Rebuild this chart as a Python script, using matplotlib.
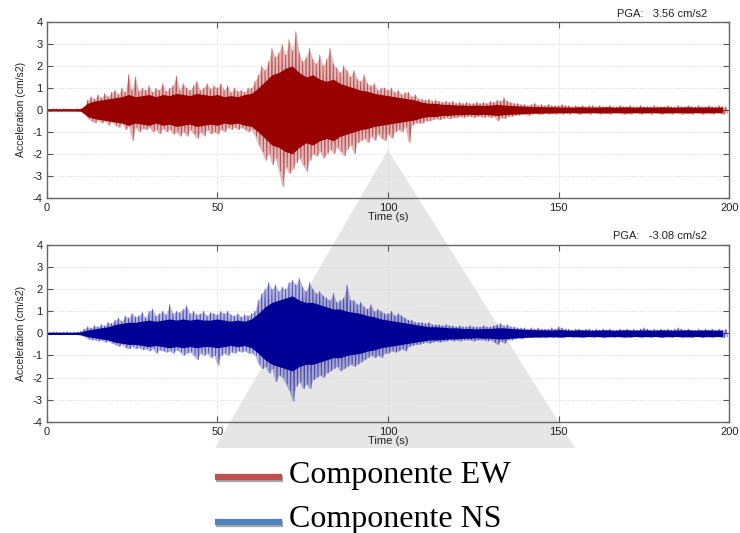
import numpy as np
import matplotlib
matplotlib.use("Agg")
import matplotlib.pyplot as plt
from matplotlib.lines import Line2D
from matplotlib.patches import Polygon
import matplotlib.patheffects as pe

# ---- data: per-second peak (max / min) acceleration read from the records ----
time_s = list(range(200))

ew_max = [0.05,0.04,0.06,0.05,0.04,0.06,0.05,0.05,0.04,0.06,0.05,0.08,
          0.45,0.6,0.5,0.7,0.55,0.75,0.6,0.8,
          0.9,0.7,1.0,0.8,1.6,0.9,1.5,0.85,1.0,0.9,
          1.1,0.8,1.0,0.9,1.2,0.85,1.0,1.1,1.55,0.9,
          1.2,1.0,0.9,1.1,1.3,0.9,1.0,1.2,0.95,1.1,
          1.0,1.2,0.9,1.1,0.8,1.0,0.85,0.9,0.8,1.0,
          1.0,1.3,1.6,2.0,1.8,2.2,2.8,2.4,2.6,3.0,
          2.5,3.2,2.7,3.56,2.6,2.2,2.4,2.8,2.3,2.1,
          2.5,2.0,2.3,2.8,2.1,1.9,1.7,2.0,1.8,1.5,
          1.8,1.4,1.3,1.6,1.2,1.1,1.2,0.9,1.0,1.0,
          0.9,1.0,0.8,0.9,0.7,0.8,0.8,0.6,0.7,0.5,
          0.5,0.45,0.5,0.4,0.45,0.4,0.35,0.4,0.35,0.4,
          0.3,0.35,0.3,0.35,0.3,0.3,0.35,0.3,0.35,0.3,
          0.4,0.35,0.45,0.4,0.55,0.4,0.35,0.3,0.3,0.25,
          0.25,0.2,0.25,0.3,0.2,0.25,0.2,0.25,0.2,0.2,
          0.2,0.25,0.2,0.2,0.15,0.2,0.15,0.2,0.15,0.2,
          0.2,0.15,0.2,0.15,0.15,0.2,0.15,0.15,0.2,0.15,
          0.15,0.2,0.15,0.15,0.2,0.15,0.15,0.15,0.2,0.15,
          0.15,0.15,0.2,0.15,0.15,0.2,0.15,0.15,0.2,0.15,
          0.15,0.2,0.15,0.15,0.2,0.15,0.15,0.2,0.15,0.15]

ew_min = [-0.05,-0.06,-0.04,-0.05,-0.06,-0.04,-0.05,-0.06,-0.05,-0.04,-0.06,-0.08,
          -0.4,-0.5,-0.6,-0.45,-0.6,-0.5,-0.7,-0.55,
          -0.7,-0.8,-0.6,-0.9,-0.75,-1.4,-0.8,-1.0,-0.85,-0.9,
          -0.8,-1.0,-0.9,-1.1,-0.85,-1.0,-0.9,-1.1,-1.0,-1.2,
          -1.0,-1.2,-0.9,-1.1,-1.3,-1.0,-1.2,-0.9,-1.1,-1.0,
          -1.1,-0.9,-1.0,-0.8,-0.9,-0.8,-0.9,-0.8,-0.9,-1.0,
          -0.9,-1.2,-1.6,-1.9,-2.3,-2.0,-2.5,-2.2,-2.8,-3.5,
          -2.6,-2.9,-2.7,-2.4,-2.2,-2.5,-2.8,-2.3,-2.0,-2.1,
          -1.9,-2.2,-2.0,-1.8,-2.0,-1.7,-1.9,-2.1,-1.8,-1.6,
          -2.0,-1.5,-1.4,-1.3,-1.5,-1.2,-1.4,-1.1,-1.3,-1.4,
          -1.1,-1.3,-1.0,-0.9,-1.0,-0.8,-1.5,-0.7,-0.6,-0.6,
          -0.6,-0.5,-0.5,-0.45,-0.4,-0.45,-0.4,-0.35,-0.4,-0.35,
          -0.35,-0.3,-0.35,-0.3,-0.3,-0.35,-0.3,-0.3,-0.35,-0.3,
          -0.35,-0.3,-0.5,-0.35,-0.4,-0.3,-0.3,-0.25,-0.25,-0.2,
          -0.2,-0.25,-0.2,-0.15,-0.2,-0.2,-0.15,-0.2,-0.15,-0.2,
          -0.15,-0.2,-0.15,-0.2,-0.15,-0.15,-0.2,-0.15,-0.15,-0.2,
          -0.15,-0.15,-0.2,-0.15,-0.15,-0.2,-0.15,-0.15,-0.15,-0.2,
          -0.15,-0.2,-0.15,-0.15,-0.2,-0.15,-0.15,-0.2,-0.15,-0.15,
          -0.2,-0.15,-0.15,-0.2,-0.15,-0.15,-0.2,-0.15,-0.15,-0.2,
          -0.15,-0.15,-0.2,-0.15,-0.15,-0.2,-0.15,-0.15,-0.2,-0.15]

ns_max = [0.05,0.04,0.06,0.05,0.04,0.05,0.06,0.04,0.05,0.06,
          0.1,0.2,0.3,0.25,0.35,0.3,0.4,0.35,0.5,0.45,
          0.6,0.7,0.55,0.8,0.7,0.9,0.75,0.8,0.95,0.7,
          1.0,1.1,0.8,0.9,1.0,0.85,1.3,0.9,1.0,0.95,
          1.1,1.25,0.9,1.0,0.85,0.9,1.0,0.8,0.95,0.9,
          0.85,1.0,0.9,1.0,0.85,0.8,0.9,0.75,0.85,0.8,
          0.9,1.0,1.5,1.8,2.0,2.3,2.0,2.2,1.9,2.1,
          2.0,2.3,2.4,2.2,2.5,2.1,1.9,2.3,2.0,1.8,
          1.9,1.7,1.6,1.5,1.8,1.4,1.5,1.6,2.2,1.5,
          1.5,1.3,1.4,1.2,1.1,1.3,1.0,1.1,1.0,0.9,
          0.9,1.0,0.8,0.9,0.8,0.7,0.6,0.6,0.5,0.5,
          0.5,0.45,0.5,0.4,0.4,0.4,0.35,0.4,0.35,0.35,
          0.3,0.35,0.3,0.3,0.35,0.3,0.3,0.3,0.35,0.3,
          0.3,0.35,0.4,0.45,0.35,0.4,0.3,0.3,0.25,0.25,
          0.25,0.2,0.25,0.2,0.25,0.2,0.2,0.2,0.25,0.2,
          0.3,0.25,0.2,0.2,0.15,0.2,0.2,0.15,0.2,0.2,
          0.15,0.2,0.15,0.2,0.15,0.2,0.15,0.15,0.2,0.15,
          0.2,0.15,0.2,0.15,0.2,0.25,0.2,0.15,0.2,0.15,
          0.2,0.15,0.2,0.15,0.2,0.25,0.2,0.15,0.2,0.15,
          0.15,0.2,0.15,0.2,0.15,0.2,0.15,0.2,0.15,0.2]

ns_min = [-0.05,-0.06,-0.04,-0.05,-0.06,-0.05,-0.04,-0.06,-0.05,-0.04,
          -0.1,-0.15,-0.25,-0.3,-0.3,-0.35,-0.3,-0.4,-0.35,-0.45,
          -0.5,-0.6,-0.5,-0.65,-0.7,-0.6,-0.7,-0.65,-0.75,-0.7,
          -0.8,-0.7,-0.9,-0.75,-0.8,-0.85,-0.8,-0.9,-0.75,-0.85,
          -1.0,-0.9,-0.85,-1.0,-1.2,-0.9,-1.0,-0.9,-1.1,-1.0,
          -1.45,-1.0,-0.9,-1.0,-0.85,-0.9,-0.8,-0.85,-0.8,-0.9,
          -0.9,-1.0,-1.4,-1.6,-1.5,-1.8,-1.6,-2.2,-1.9,-2.0,
          -2.3,-2.6,-3.08,-2.4,-2.2,-2.5,-2.3,-2.5,-2.1,-2.0,
          -1.9,-2.0,-1.8,-1.7,-1.6,-1.5,-1.7,-1.6,-1.5,-1.4,
          -1.5,-1.4,-1.3,-1.2,-1.1,-1.0,-1.1,-1.0,-1.1,-0.9,
          -0.9,-0.8,-0.85,-0.8,-0.7,-0.8,-0.6,-0.55,-0.5,-0.5,
          -0.45,-0.4,-0.45,-0.4,-0.35,-0.4,-0.35,-0.35,-0.3,-0.35,
          -0.3,-0.35,-0.3,-0.3,-0.3,-0.35,-0.3,-0.3,-0.3,-0.35,
          -0.3,-0.4,-0.5,-0.35,-0.45,-0.3,-0.3,-0.25,-0.2,-0.25,
          -0.2,-0.15,-0.2,-0.15,-0.2,-0.15,-0.2,-0.15,-0.2,-0.15,
          -0.15,-0.2,-0.15,-0.15,-0.2,-0.15,-0.15,-0.2,-0.15,-0.15,
          -0.2,-0.15,-0.15,-0.2,-0.15,-0.15,-0.2,-0.15,-0.15,-0.2,
          -0.15,-0.2,-0.15,-0.15,-0.2,-0.15,-0.15,-0.2,-0.15,-0.15,
          -0.2,-0.15,-0.15,-0.2,-0.15,-0.15,-0.2,-0.15,-0.15,-0.2,
          -0.15,-0.15,-0.2,-0.15,-0.15,-0.2,-0.15,-0.15,-0.2,-0.15]

# dense-core half-width (darkest band) read every 2 s
core_t = list(range(0, 200, 2))
ew_core = [0.05,0.05,0.05,0.05,0.05,0.06,
           0.3,0.4,0.45,0.5,0.55,
           0.6,0.7,0.6,0.65,0.7,
           0.6,0.7,0.65,0.75,0.7,
           0.65,0.75,0.7,0.65,0.7,
           0.6,0.65,0.6,0.7,0.75,
           1.0,1.3,1.6,1.7,1.9,
           2.0,1.7,1.5,1.6,1.4,
           1.3,1.4,1.2,1.1,1.0,
           0.9,0.85,0.75,0.7,0.65,
           0.6,0.55,0.5,0.45,0.35,
           0.3,0.3,0.25,0.25,0.22,
           0.22,0.2,0.22,0.2,0.22,
           0.25,0.22,0.2,0.18,0.17,
           0.15,0.15,0.14,0.14,0.13,
           0.13,0.12,0.14,0.13,0.12,0.13,0.14,0.12,
           0.13,0.14,0.12,0.13,0.13,0.12,0.14,0.13,
           0.12,0.13,0.14,0.12,0.13,0.13,0.12,0.13]
ns_core = [0.05,0.05,0.05,0.05,0.05,0.06,
           0.15,0.2,0.25,0.3,0.4,
           0.45,0.5,0.5,0.55,0.6,
           0.55,0.6,0.65,0.6,0.65,
           0.6,0.65,0.6,0.6,0.65,
           0.6,0.55,0.6,0.55,0.65,
           0.9,1.2,1.4,1.5,1.6,
           1.7,1.5,1.4,1.4,1.3,
           1.2,1.1,1.1,1.0,0.95,
           0.9,0.8,0.75,0.65,0.6,
           0.55,0.5,0.45,0.4,0.35,
           0.3,0.3,0.28,0.25,0.25,
           0.22,0.22,0.2,0.22,0.22,
           0.25,0.25,0.22,0.2,0.18,
           0.17,0.16,0.16,0.15,0.17,
           0.15,0.14,0.16,0.15,0.14,0.15,0.16,0.14,
           0.15,0.16,0.14,0.15,0.15,0.14,0.16,0.15,
           0.14,0.15,0.16,0.14,0.15,0.15,0.14,0.15]

pga_labels = ["PGA:   3.56 cm/s2", "PGA:   -3.08 cm/s2"]
series_names = ["Componente EW", "Componente NS"]
x_ticks = [0, 50, 100, 150, 200]
y_ticks = [-4, -3, -2, -1, 0, 1, 2, 3, 4]

plt.rcParams['font.family'] = ['Liberation Sans', 'DejaVu Sans']
plt.rcParams['axes.unicode_minus'] = False

fig = plt.figure(figsize=(7.4, 5.33), dpi=100)
fig.patch.set_facecolor('white')

# watermark triangle (background)
tri = Polygon([(388/740, 1-150/533), (215/740, 1-448/533), (575/740, 1-448/533)],
              closed=True, transform=fig.transFigure, facecolor='#e6e6e6',
              edgecolor='none', zorder=-5)
fig.patches.append(tri)

def zigzag(upper, lower):
    t = np.repeat(np.asarray(time_s, float), 2) + np.tile([0.0, 0.5], len(time_s))
    y = np.column_stack((upper, lower)).ravel()
    return t, y

panels = [
    ([0.063, 0.629, 0.9225, 0.3296], ew_max, ew_min, ew_core, '#990000', pga_labels[0]),
    ([0.063, 0.2088, 0.9225, 0.3315], ns_max, ns_min, ns_core, '#000096', pga_labels[1]),
]

for rect, up, lo, core, col, pga in panels:
    ax = fig.add_axes(rect)
    ax.set_zorder(2)
    ax.set_facecolor('none')
    ax.fill_between(time_s, lo, up, color=col, alpha=0.28, lw=0)
    ax.fill_between(core_t, [-c for c in core], core, color=col, alpha=1.0, lw=0)
    t, y = zigzag(up, lo)
    ax.plot(t, y, color=col, lw=0.6, alpha=0.55)
    ax.set_xlim(0, 200)
    ax.set_ylim(-4, 4)
    ax.set_xticks(x_ticks)
    ax.set_yticks(y_ticks)
    ax.grid(True, color='#d6d6d6', linestyle=':', linewidth=0.7)
    ax.set_axisbelow(True)
    ax.tick_params(direction='in', top=True, right=True, length=4,
                   color='#555555', labelsize=8, labelcolor='#222222', pad=3)
    ax.tick_params(axis='x', pad=4)
    for s in ax.spines.values():
        s.set_color('#666666')
        s.set_linewidth(1.0)
    ax.set_ylabel('Acceleration (cm/s2)', fontsize=7.5, color='#222222', labelpad=5)
    ax.set_xlabel('Time (s)', fontsize=8, color='#222222', labelpad=-1)
    ax.text(0.968, 1.02, pga, transform=ax.transAxes, ha='right', va='bottom',
            fontsize=8, color='#222222')

# custom legend below the panels
leg_colors = ['#c0504d', '#4f81bd']
leg_y = [1-475/533, 1-520/533]
for name, c, yy in zip(series_names, leg_colors, leg_y):
    ln = Line2D([215/740, 282/740], [yy - 0.004, yy - 0.004], transform=fig.transFigure,
                color=c, lw=4.5, solid_capstyle='butt',
                path_effects=[pe.SimpleLineShadow(offset=(1, -1.5), alpha=0.35),
                              pe.Normal()])
    fig.add_artist(ln)
    fig.text(289/740, yy, name, fontsize=23, family='Liberation Serif',
             va='center', ha='left', color='black')

fig.savefig('out.png', dpi=100, facecolor='white')
